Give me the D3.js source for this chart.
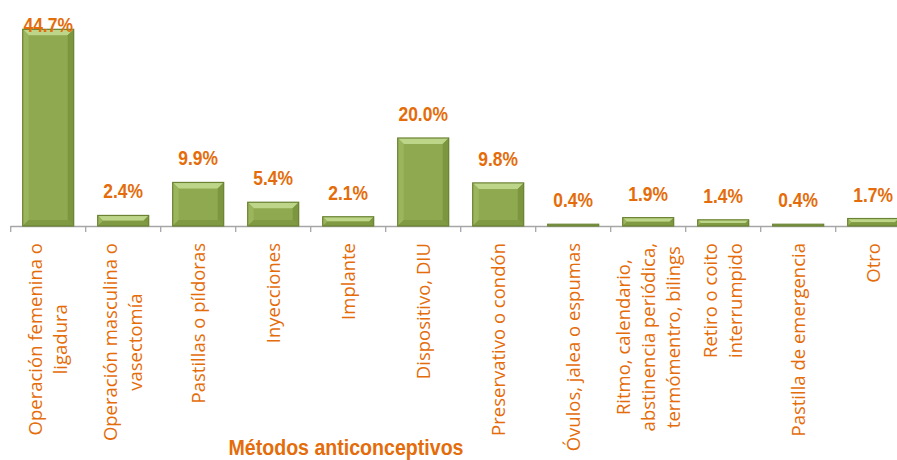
<!DOCTYPE html>
<html>
<head>
<meta charset="utf-8">
<script src="https://cdn.jsdelivr.net/npm/d3@7"></script>
<style>
  html, body { margin: 0; padding: 0; background: #fff; overflow: hidden; }
</style>
</head>
<body>
<div id="chart"></div>
<script>
// categories (lines of each label) and values in %
const categories = [
  ["Operación femenina o", "ligadura"],
  ["Operación masculina o", "vasectomía"],
  ["Pastillas o píldoras"],
  ["Inyecciones"],
  ["Implante"],
  ["Dispositivo, DIU"],
  ["Preservativo o condón"],
  ["Óvulos, jalea o espumas"],
  ["Ritmo, calendario,", "abstinencia periódica,", "termómentro, bilings"],
  ["Retiro o coito", "interrumpido"],
  ["Pastilla de emergencia"],
  ["Otro"]
];
const values = [44.7, 2.4, 9.9, 5.4, 2.1, 20.0, 9.8, 0.4, 1.9, 1.4, 0.4, 1.7];
const valueLabels = ["44.7%", "2.4%", "9.9%", "5.4%", "2.1%", "20.0%", "9.8%", "0.4%", "1.9%", "1.4%", "0.4%", "1.7%"];
const axisTitle = "Métodos anticonceptivos";

const width = 897, height = 460;
const orange = "#E46C0A";
const boldFont = "'Liberation Sans', Arial, sans-serif";

const svg = d3.select("#chart").append("svg")
  .attr("width", width)
  .attr("height", height);

// squeeze bold text to look like a narrow face
function narrowText(sel, ratio) {
  sel.each(function () {
    const w = this.getComputedTextLength();
    d3.select(this).attr("textLength", w * ratio).attr("lengthAdjust", "spacingAndGlyphs");
  });
}

const keys = categories.map((c, i) => "c" + i);

const x = d3.scaleBand()
  .domain(keys)
  .range([10.7, 910.7])
  .paddingInner(0.32)
  .paddingOuter(0.16);

const y = d3.scaleLinear()
  .domain([0, 45])
  .range([226, 28]);

const step = x.step();
const x0 = x.range()[0];

// axis line and tick marks
svg.append("line")
  .attr("x1", x0).attr("x2", x.range()[1])
  .attr("y1", y(0) + 0.5).attr("y2", y(0) + 0.5)
  .attr("stroke", "#A6A6A6").attr("stroke-width", 1.3);

svg.selectAll(".tick")
  .data(d3.range(keys.length + 1))
  .enter().append("line")
  .attr("x1", i => x0 + i * step).attr("x2", i => x0 + i * step)
  .attr("y1", y(0)).attr("y2", y(0) + 6)
  .attr("stroke", "#A6A6A6").attr("stroke-width", 1.3);

// bars with bevel
const bars = svg.append("g");
values.forEach((v, i) => {
  const bx = x(keys[i]), bw = x.bandwidth();
  const by = y(v), bh = y(0) - y(v);
  const b = Math.min(6, bh / 2, bw / 2);
  const g = bars.append("g");
  const X1 = bx + bw, Y1 = by + bh;
  const poly = (pts, fill) => g.append("polygon")
    .attr("points", pts.map(p => p.join(",")).join(" "))
    .attr("fill", fill);
  poly([[bx, by], [X1, by], [X1, Y1], [bx, Y1]], "#8EA94F");
  poly([[bx, by], [X1, by], [X1 - b, by + b], [bx + b, by + b]], "#BDD588");
  poly([[bx, by], [bx + b, by + b], [bx + b, Y1 - b], [bx, Y1]], "#9AB55C");
  poly([[X1, by], [X1, Y1], [X1 - b, Y1 - b], [X1 - b, by + b]], "#7C963F");
  poly([[bx, Y1], [X1, Y1], [X1 - b, Y1 - b], [bx + b, Y1 - b]], "#809A43");
  g.append("rect")
    .attr("x", bx).attr("y", by)
    .attr("width", bw).attr("height", bh)
    .attr("fill", "none")
    .attr("stroke", "#6A8232").attr("stroke-width", 1.2);
});

// value labels
svg.selectAll(".val")
  .data(values)
  .enter().append("text")
  .attr("class", "val")
  .attr("x", (d, i) => x(keys[i]) + x.bandwidth() / 2)
  .attr("y", d => Math.max(y(d) - 17, 32))
  .attr("text-anchor", "middle")
  .attr("font-family", boldFont)
  .attr("font-weight", "bold")
  .attr("font-size", "21px")
  .attr("fill", orange)
  .text((d, i) => valueLabels[i])
  .call(narrowText, 0.83);

// category labels, rotated
const lineH = 25, labelTop = 243;
categories.forEach((lines, i) => {
  const cx = x(keys[i]) + x.bandwidth() / 2;
  const t = svg.append("text")
    .attr("font-family", "'Open Sans', sans-serif")
    .attr("font-size", "18.5px")
    .attr("fill", orange)
    .attr("text-anchor", "middle");
  const spans = lines.map((s, j) => t.append("tspan").text(s));
  const maxW = d3.max(spans, s => s.node().getComputedTextLength());
  const cy = labelTop + maxW / 2;
  spans.forEach((s, j) => {
    const off = (j - (lines.length - 1) / 2) * lineH + 6.5;
    s.attr("x", -cy).attr("y", cx + off);
  });
  t.attr("transform", "rotate(-90)");
});

// axis title
svg.append("text")
  .attr("x", 346)
  .attr("y", 455)
  .attr("text-anchor", "middle")
  .attr("font-family", boldFont)
  .attr("font-weight", "bold")
  .attr("font-size", "22px")
  .attr("fill", orange)
  .text(axisTitle)
  .call(narrowText, 0.89);
</script>
</body>
</html>
